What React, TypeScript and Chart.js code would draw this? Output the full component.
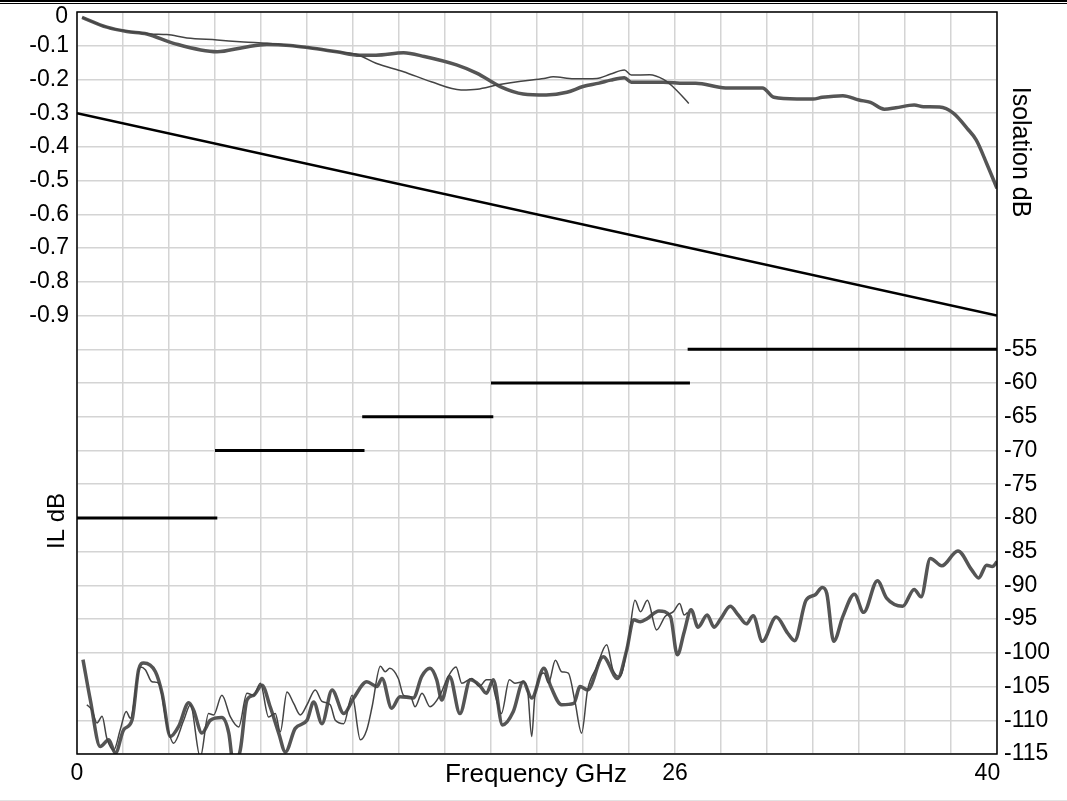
import React, { useEffect, useRef } from 'react';
import { Chart, registerables } from 'chart.js';
Chart.register(...registerables);

const FONT = '"Liberation Sans", Arial, Helvetica, sans-serif';

// X axis (GHz)
const xTickLabels: Record<number, string> = { 0: '0', 26: '26', 40: '40   ' };

// Insertion loss (dB) - thick trace
const ilThickFreq = [0.22, 1.3, 2.17, 3.04, 4.2, 6.09, 7.25, 8.26, 9.26, 10.1, 11.3, 12.3, 13.0, 14.2, 15.1, 16.5, 17.4, 18.4, 19.4, 20.4, 21.3, 22.0, 22.7, 23.2, 23.8, 24.1, 25.5, 26.4, 26.9, 28.2, 29.8, 30.3, 31.3, 32.0, 32.4, 33.3, 34.0, 34.5, 35.1, 35.6, 36.4, 36.8, 37.5, 38.1, 38.7, 39.1, 39.55, 40.0];
const ilThickDb = [-0.016, -0.045, -0.058, -0.065, -0.093, -0.118, -0.105, -0.096, -0.099, -0.106, -0.118, -0.128, -0.128, -0.121, -0.132, -0.157, -0.182, -0.221, -0.243, -0.246, -0.238, -0.221, -0.211, -0.202, -0.195, -0.208, -0.208, -0.211, -0.211, -0.225, -0.225, -0.253, -0.258, -0.258, -0.253, -0.248, -0.261, -0.268, -0.288, -0.284, -0.276, -0.281, -0.282, -0.300, -0.345, -0.38, -0.449, -0.523];

// Insertion loss (dB) - thin trace
const ilThinFreq = [0.22, 1.3, 2.03, 3.19, 3.91, 4.78, 6.09, 7.25, 8.26, 9.26, 10.1, 11.3, 12.2, 13.0, 14.2, 15.4, 16.7, 17.4, 18.3, 19.3, 20.3, 20.7, 21.6, 22.6, 23.2, 23.8, 24.1, 24.9, 25.5, 25.9, 26.6];
const ilThinDb = [-0.016, -0.045, -0.055, -0.065, -0.067, -0.077, -0.083, -0.089, -0.093, -0.099, -0.106, -0.118, -0.127, -0.152, -0.177, -0.207, -0.231, -0.229, -0.216, -0.205, -0.197, -0.192, -0.198, -0.197, -0.184, -0.172, -0.187, -0.186, -0.2, -0.221, -0.271];

// Insertion loss spec line
const ilSpecFreq = [0, 40];
const ilSpecDb = [-0.3, -0.9];

// Isolation spec steps
const isoSpecStart = [0, 6.0, 12.4, 18.0, 26.55];
const isoSpecEnd = [6.1, 12.5, 18.1, 26.65, 40];
const isoSpecDb = [-80, -70, -65, -60, -55];

// Isolation (dB) - thick trace
const isoThickFreq = [0.26, 0.58, 1.01, 1.38, 1.67, 2.03, 2.39, 2.68, 2.9, 3.41, 3.7, 4.06, 4.42, 4.86, 5.07, 5.43, 5.8, 6.3, 6.6, 6.8, 7.1, 7.39, 7.68, 8.04, 8.4, 8.77, 9.06, 9.49, 10.0, 10.29, 10.65, 11.09, 11.6, 12.03, 12.6, 13.04, 13.26, 13.68, 14.04, 14.62, 14.99, 15.35, 15.64, 15.86, 16.2, 16.65, 17.1, 17.5, 17.8, 18.1, 18.5, 18.97, 19.4, 19.77, 20.3, 20.6, 21.07, 21.6, 21.87, 22.2, 22.88, 23.5, 23.9, 24.2, 24.5, 24.8, 25.3, 25.8, 26.1, 26.4, 26.7, 27.0, 27.4, 27.7, 28.0, 28.4, 28.75, 29.1, 29.4, 29.8, 30.4, 30.9, 31.2, 31.7, 32.1, 32.4, 32.6, 32.9, 33.3, 33.8, 34.2, 34.8, 35.2, 35.9, 36.4, 36.7, 37.1, 37.6, 38.3, 38.9, 39.2, 39.55, 39.8, 40];
const isoThickDb = [-101.0, -107.0, -113.9, -112.9, -114.9, -111.4, -110.0, -102.5, -101.5, -102.8, -106.0, -112.4, -110.9, -107.4, -108.5, -111.9, -110.0, -109.6, -111.9, -116.5, -114.4, -107.0, -106.3, -104.8, -108.0, -111.9, -114.7, -111.2, -110.0, -107.3, -110.5, -105.5, -109.0, -106.7, -104.3, -105.0, -103.8, -108.2, -106.5, -106.7, -103.5, -102.3, -104.0, -107.0, -103.5, -109.0, -104.0, -104.8, -106.0, -104.0, -110.7, -108.7, -104.3, -106.7, -102.3, -105.0, -107.7, -107.5, -105.0, -105.5, -100.6, -103.8, -99.6, -95.1, -95.4, -94.9, -93.8, -94.6, -100.3, -96.9, -93.6, -96.2, -94.4, -96.2, -94.9, -93.1, -94.4, -95.7, -94.5, -98.3, -94.7, -97.1, -98.2, -92.2, -91.4, -90.3, -91.2, -98.3, -94.6, -91.3, -94.0, -89.3, -91.9, -93.1, -90.6, -91.7, -86.0, -87.1, -84.9, -87.7, -88.9, -87.0, -87.2, -86.5];

// Isolation (dB) - thin trace
const isoThinFreq = [0.43, 0.65, 0.87, 1.09, 1.3, 1.6, 1.88, 2.14, 2.32, 2.75, 2.97, 3.26, 3.55, 3.91, 4.2, 4.64, 4.93, 5.36, 5.72, 5.94, 6.3, 6.67, 7.03, 7.39, 7.68, 7.97, 8.33, 8.62, 8.84, 9.13, 9.42, 9.71, 10.0, 10.36, 10.65, 11.01, 11.23, 11.6, 11.96, 12.32, 12.6, 12.83, 13.19, 13.4, 13.6, 13.97, 14.2, 14.5, 14.7, 15.0, 15.35, 15.78, 16.14, 16.48, 16.73, 17.16, 17.5, 17.8, 18.0, 18.2, 18.45, 18.8, 19.04, 19.4, 19.6, 19.77, 19.9, 20.3, 20.5, 20.8, 21.07, 21.36, 21.65, 21.94, 22.2, 22.6, 23.03, 23.3, 23.6, 23.97, 24.26, 24.5, 24.8, 25.2, 25.57, 25.93, 26.2, 26.4, 26.55];
const isoThinDb = [-107.7, -108.5, -110.4, -109.4, -112.7, -114.4, -111.4, -108.7, -109.7, -102.1, -102.5, -104.3, -104.5, -110.7, -113.4, -110.0, -107.7, -115.5, -109.0, -109.2, -106.3, -109.5, -111.0, -106.0, -106.3, -104.5, -109.5, -109.0, -111.7, -105.8, -107.5, -109.2, -107.7, -105.5, -107.2, -107.7, -110.0, -110.5, -106.3, -112.9, -111.4, -108.0, -102.0, -102.8, -102.3, -103.8, -106.3, -106.5, -108.0, -106.0, -108.0, -106.3, -103.5, -102.1, -104.5, -103.8, -105.0, -104.0, -104.0, -106.5, -109.0, -104.0, -104.5, -104.3, -105.8, -112.4, -106.7, -103.0, -104.5, -101.1, -102.8, -103.0, -107.2, -111.9, -105.5, -102.1, -98.8, -102.5, -103.5, -98.3, -92.2, -93.9, -92.2, -96.6, -94.6, -93.9, -92.7, -94.4, -94.0];

const pts = (xs: number[], ys: number[]) => xs.map((x, i) => ({ x, y: ys[i] }));

const specSteps = () => {
  const out: any[] = [];
  isoSpecDb.forEach((v, i) => {
    if (i > 0) out.push({ x: isoSpecStart[i], y: null });
    out.push({ x: isoSpecStart[i], y: v });
    out.push({ x: isoSpecEnd[i], y: v });
  });
  return out;
};

const framePlugin = {
  id: 'frameAndTitles',
  afterDatasetsDraw(chart: any) {
    const { ctx, chartArea } = chart;
    ctx.save();
    ctx.strokeStyle = '#000';
    ctx.lineWidth = 1.5;
    ctx.strokeRect(chartArea.left, chartArea.top, chartArea.right - chartArea.left, chartArea.bottom - chartArea.top);
    ctx.restore();
  },
  afterDraw(chart: any) {
    const { ctx, chartArea } = chart;
    ctx.save();
    ctx.fillStyle = '#000';
    // top "0" tick label of the IL axis sits a little below its grid line
    ctx.textAlign = 'right';
    ctx.textBaseline = 'middle';
    ctx.font = `23px ${FONT}`;
    ctx.fillText('0', chartArea.left - 9, chart.scales.y.getPixelForValue(0) + 5);
    ctx.textAlign = 'center';
    ctx.font = `26px ${FONT}`;
    ctx.fillText('Frequency GHz', 536, 775);
    ctx.save();
    ctx.translate(1020, 152);
    ctx.rotate(Math.PI / 2);
    ctx.font = `25px ${FONT}`;
    ctx.fillText('Isolation dB', 0, 0);
    ctx.restore();
    ctx.save();
    ctx.translate(57, 521);
    ctx.rotate(-Math.PI / 2);
    ctx.font = `24px ${FONT}`;
    ctx.fillText('IL dB', 0, 0);
    ctx.restore();
    ctx.restore();
  },
};

export default function App() {
  const ref = useRef<HTMLCanvasElement>(null);
  useEffect(() => {
    if (!ref.current) return;
    const tickFont = { family: FONT, size: 23, lineHeight: 1 };
    const chart = new Chart(ref.current, {
      type: 'line',
      data: {
        datasets: [
          { label: 'IL spec', data: pts(ilSpecFreq, ilSpecDb), yAxisID: 'y', borderColor: '#000', borderWidth: 2.5, pointRadius: 0, tension: 0 },
          { label: 'Isolation spec', data: specSteps(), yAxisID: 'yR', borderColor: '#000', borderWidth: 3, pointRadius: 0, spanGaps: false, tension: 0 },
          { label: 'IL thin', data: pts(ilThinFreq, ilThinDb), yAxisID: 'y', borderColor: '#444', borderWidth: 1.5, pointRadius: 0, cubicInterpolationMode: 'monotone' },
          { label: 'IL thick', data: pts(ilThickFreq, ilThickDb), yAxisID: 'y', borderColor: '#555', borderWidth: 3.5, pointRadius: 0, cubicInterpolationMode: 'monotone' },
          { label: 'Iso thin', data: pts(isoThinFreq, isoThinDb), yAxisID: 'yR', borderColor: '#444', borderWidth: 1.5, pointRadius: 0, cubicInterpolationMode: 'monotone' },
          { label: 'Iso thick', data: pts(isoThickFreq, isoThickDb), yAxisID: 'yR', borderColor: '#555', borderWidth: 3.5, pointRadius: 0, cubicInterpolationMode: 'monotone' },
        ] as any,
      },
      options: {
        animation: false,
        responsive: false,
        devicePixelRatio: 1,
        clip: 0 as any,
        layout: { padding: { top: 12, left: 0, right: 0, bottom: 0 } },
        plugins: { legend: { display: false }, tooltip: { enabled: false } },
        scales: {
          x: {
            type: 'linear',
            min: 0,
            max: 40,
            border: { display: false },
            grid: { color: '#d4d4d4', lineWidth: 1.5, drawTicks: false },
            ticks: {
              stepSize: 2,
              autoSkip: false,
              maxRotation: 0,
              padding: 8,
              color: '#000',
              font: tickFont,
              callback: (v: any) => xTickLabels[Math.round(Number(v))] ?? '',
            },
            afterFit: (s: any) => { s.height = 47; s.paddingLeft = 0; s.paddingRight = 0; },
          },
          y: {
            position: 'left',
            min: -2.2,
            max: 0,
            border: { display: false },
            grid: { color: '#d4d4d4', lineWidth: 1.5, drawTicks: false },
            ticks: {
              stepSize: 0.1,
              autoSkip: false,
              padding: 8,
              color: '#000',
              font: tickFont,
              callback: (v: any) => {
                const n = Math.round(Number(v) * 10) / 10;
                if (n < -0.95 || n === 0) return '';
                return n.toFixed(1);
              },
            },
            afterFit: (s: any) => { s.width = 77; s.paddingTop = 0; s.paddingBottom = 0; },
          },
          yR: {
            position: 'right',
            min: -115,
            max: -5,
            border: { display: false },
            grid: { display: false, drawTicks: false },
            ticks: {
              stepSize: 5,
              autoSkip: false,
              padding: 7,
              color: '#000',
              font: tickFont,
              callback: (v: any) => {
                const n = Math.round(Number(v));
                return n <= -55 ? String(n) : '';
              },
            },
            afterFit: (s: any) => { s.width = 70; s.paddingTop = 0; s.paddingBottom = 0; },
          },
        },
      } as any,
      plugins: [framePlugin],
    });
    return () => chart.destroy();
  }, []);

  return (
    <div style={{ position: 'fixed', left: 0, top: 0, width: 1067, height: 801, background: '#fff' }}>
      <canvas ref={ref} width={1067} height={801} style={{ position: 'absolute', left: 0, top: 0 }} />
      <div style={{ position: 'absolute', left: 0, top: 0, width: 1067, height: 1, borderTop: '2px solid #000', borderBottom: '1px solid #000' }} />
      <div style={{ position: 'absolute', left: 0, top: 800, width: 1067, height: 1, background: '#e2e2e2' }} />
    </div>
  );
}
